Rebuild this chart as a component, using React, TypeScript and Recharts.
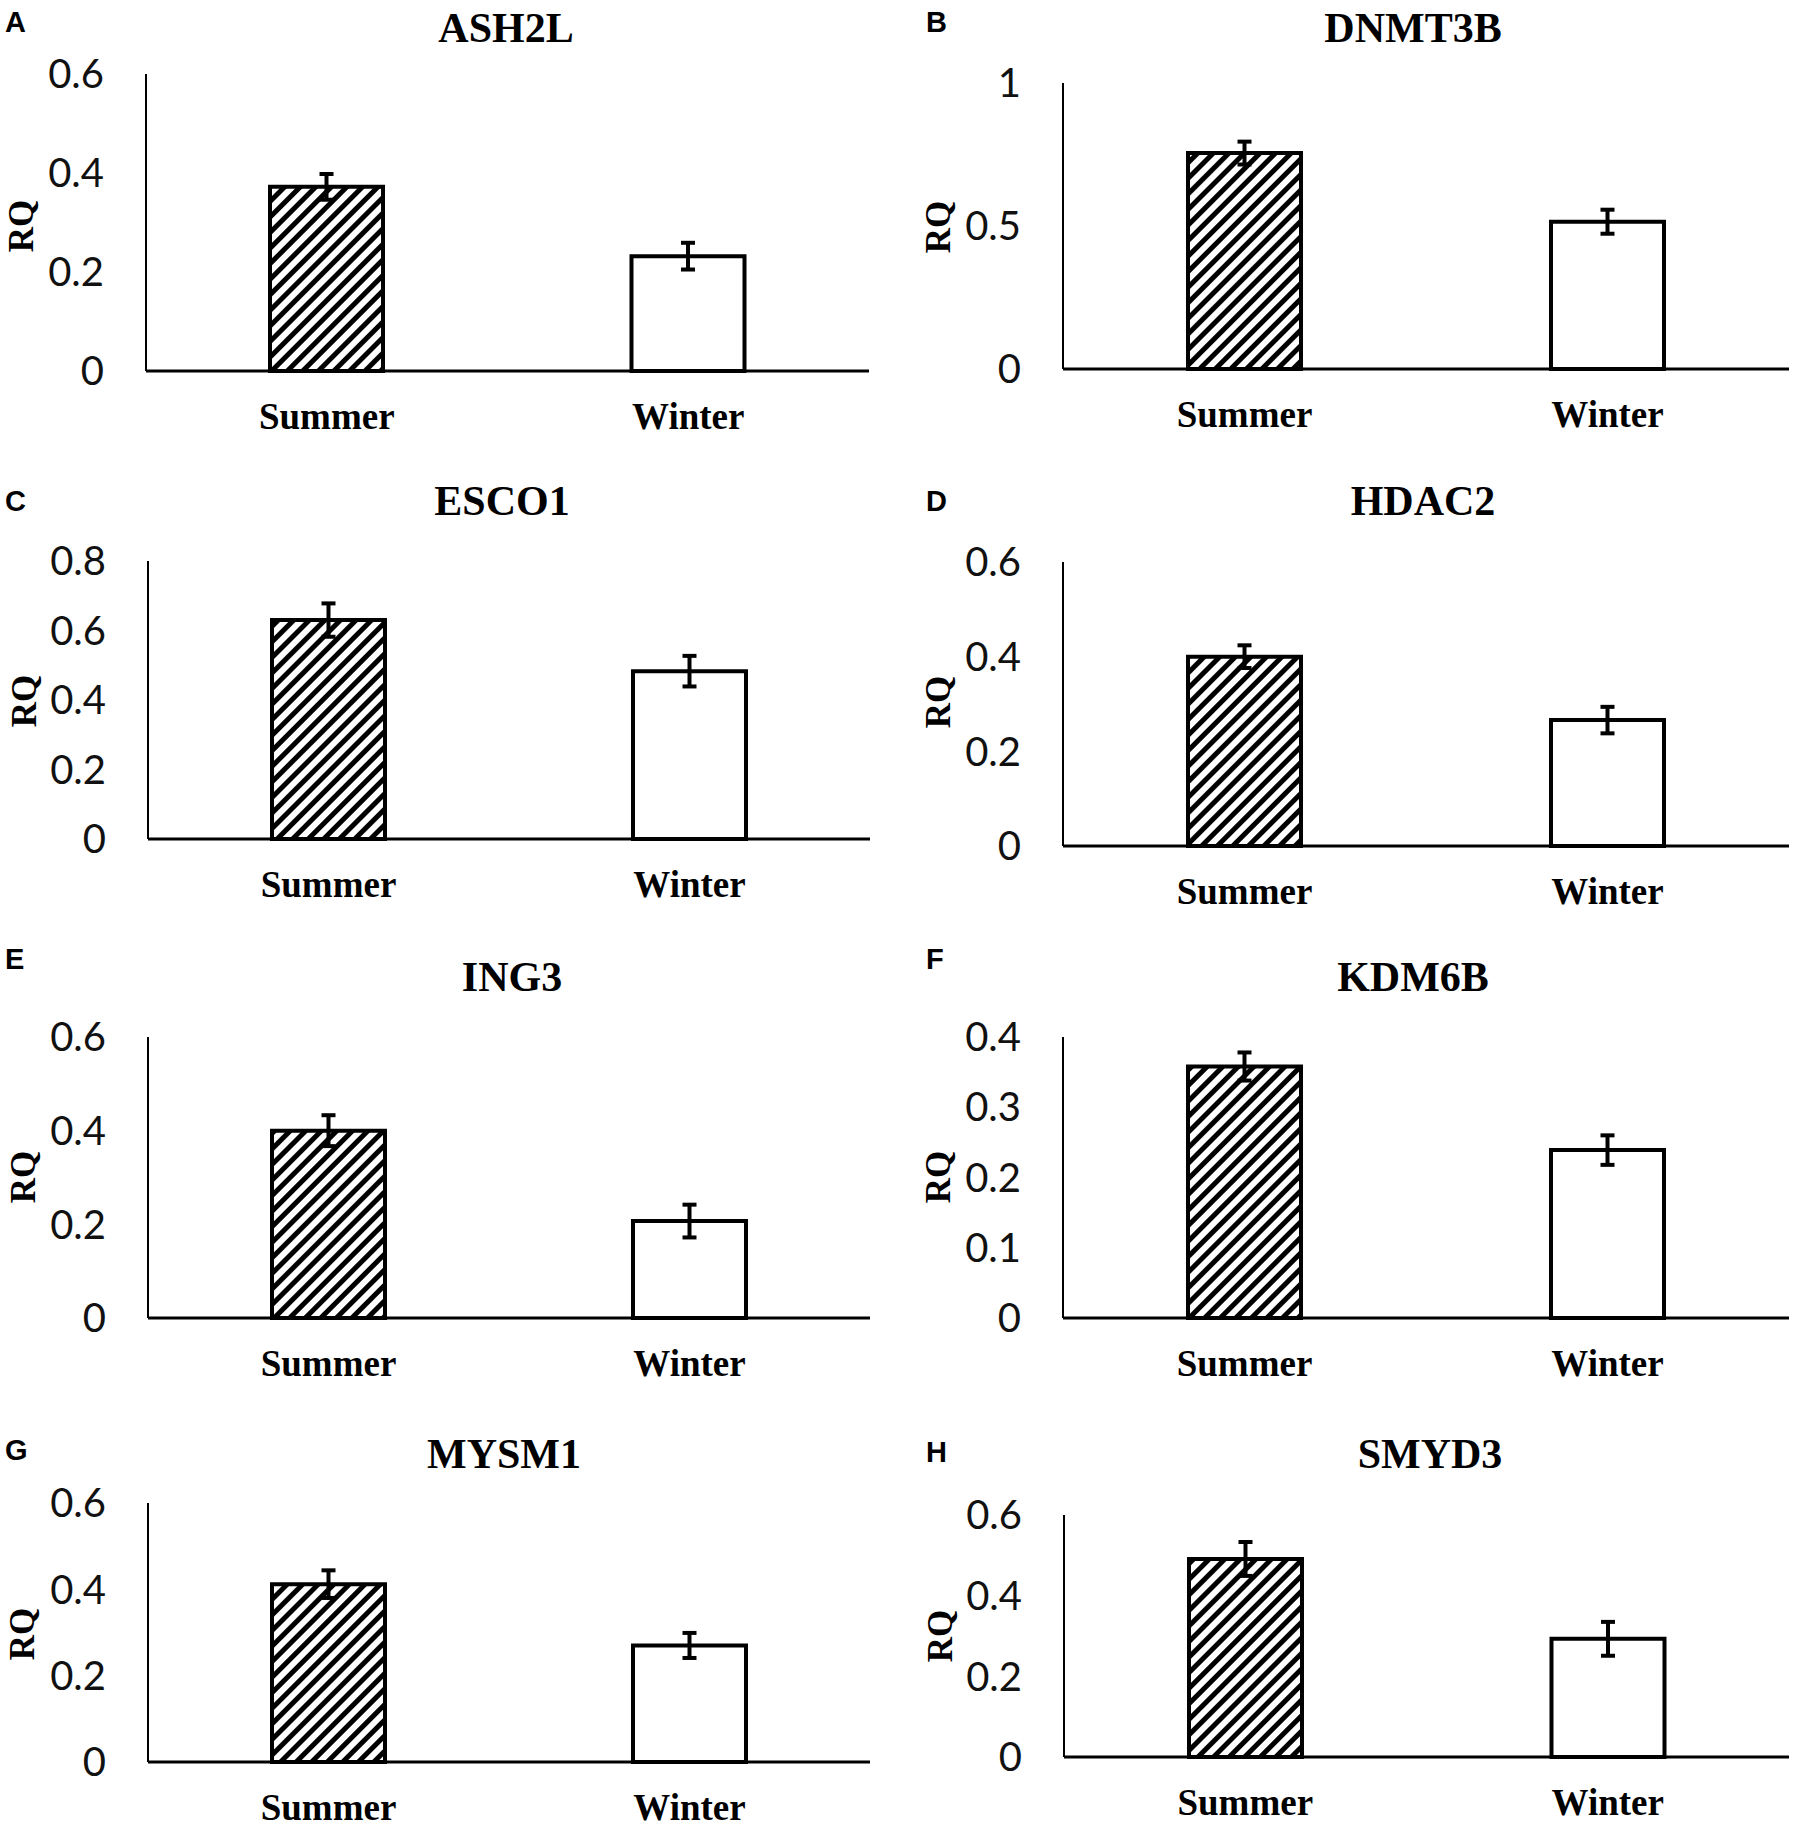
import React from "react";
import { Bar, BarChart, Cell, ErrorBar, XAxis, YAxis } from "recharts";

// values (relative quantity, mean ± error)
const categories = ["Summer", "Winter"];
const genes = ["ASH2L", "DNMT3B", "ESCO1", "HDAC2", "ING3", "KDM6B", "MYSM1", "SMYD3"];
const panelLetters = ["A", "B", "C", "D", "E", "F", "G", "H"];
const summerRQ = [0.372, 0.755, 0.63, 0.4, 0.4, 0.358, 0.412, 0.491];
const winterRQ = [0.232, 0.515, 0.483, 0.266, 0.207, 0.239, 0.27, 0.293];
const summerErr = [0.026, 0.04, 0.048, 0.024, 0.033, 0.02, 0.032, 0.042];
const winterErr = [0.027, 0.042, 0.044, 0.028, 0.035, 0.021, 0.029, 0.042];
const yTicks = [
  [0, 0.2, 0.4, 0.6],
  [0, 0.5, 1],
  [0, 0.2, 0.4, 0.6, 0.8],
  [0, 0.2, 0.4, 0.6],
  [0, 0.2, 0.4, 0.6],
  [0, 0.1, 0.2, 0.3, 0.4],
  [0, 0.2, 0.4, 0.6],
  [0, 0.2, 0.4, 0.6],
];

// where each panel's plot area sits on the page
const layout = [
  { x0: 146, x1: 869, top: 74, zero: 371, titleX: 506, titleY: 42, letterY: 32, rqX: 21, rqY: 226 },
  { x0: 1063, x1: 1789, top: 83, zero: 369, titleX: 1413, titleY: 42, letterY: 32, rqX: 938, rqY: 227 },
  { x0: 148, x1: 870, top: 561, zero: 839, titleX: 502, titleY: 515, letterY: 511, rqX: 24, rqY: 701 },
  { x0: 1063, x1: 1789, top: 562, zero: 846, titleX: 1423, titleY: 515, letterY: 511, rqX: 938, rqY: 702 },
  { x0: 148, x1: 870, top: 1037, zero: 1318, titleX: 512, titleY: 991, letterY: 969, rqX: 23, rqY: 1177 },
  { x0: 1063, x1: 1789, top: 1037, zero: 1318, titleX: 1413, titleY: 991, letterY: 969, rqX: 938, rqY: 1177 },
  { x0: 148, x1: 870, top: 1503, zero: 1762, titleX: 504, titleY: 1468, letterY: 1460, rqX: 22, rqY: 1634 },
  { x0: 1064, x1: 1789, top: 1515, zero: 1757, titleX: 1430, titleY: 1468, letterY: 1462, rqX: 940, rqY: 1636 },
];

const Y_AXIS_W = 140;
const M_TOP = 32;
const X_AXIS_H = 70;
const serif = "'Liberation Serif', 'Times New Roman', serif";

function CategoryTick({ x, y, payload }: any) {
  return (
    <text x={x} y={y + 45} textAnchor="middle" dominantBaseline="central" fontFamily={serif} fontWeight="bold" fontSize={37} fill="#000">
      {payload.value}
    </text>
  );
}

function Panel({ i }: { i: number }) {
  const p = layout[i];
  const ticks = yTicks[i];
  const data = categories.map((name, k) => ({
    name,
    value: k === 0 ? summerRQ[i] : winterRQ[i],
    err: k === 0 ? summerErr[i] : winterErr[i],
  }));
  const width = p.x1 - p.x0 + Y_AXIS_W + 10;
  const height = p.zero - p.top + M_TOP + X_AXIS_H;

  return (
    <div style={{ position: "absolute", left: p.x0 - Y_AXIS_W, top: p.top - M_TOP }}>
      <BarChart width={width} height={height} data={data} barSize={113} margin={{ top: M_TOP, right: 10, bottom: 0, left: 0 }}>
        <XAxis
          dataKey="name"
          height={X_AXIS_H}
          interval={0}
          axisLine={{ stroke: "#000", strokeWidth: 3 }}
          tickLine={false}
          tickSize={0}
          tickMargin={0}
          tick={(props: any) => <CategoryTick {...props} />}
        />
        <YAxis
          width={Y_AXIS_W}
          domain={[0, ticks[ticks.length - 1]]}
          ticks={ticks}
          interval={0}
          axisLine={{ stroke: "#000", strokeWidth: 2 }}
          tickLine={false}
          tickSize={0}
          tickMargin={42}
          tick={{ fontFamily: "Lato", fontSize: 40, fill: "#111" }}
        />
        <Bar dataKey="value" stroke="#000" strokeWidth={4} isAnimationActive={false}>
          {data.map((d, k) => (
            <Cell key={d.name} fill={k === 0 ? "url(#hatch)" : "#fff"} />
          ))}
          <ErrorBar dataKey="err" direction="y" width={7} stroke="#000" strokeWidth={4} isAnimationActive={false} />
        </Bar>
      </BarChart>
    </div>
  );
}

export default function App() {
  return (
    <div style={{ position: "absolute", left: 0, top: 0, width: 1800, height: 1825, background: "#fff", overflow: "hidden" }}>
      <svg width={1800} height={1825} style={{ position: "absolute", left: 0, top: 0 }}>
        <defs>
          <pattern id="hatch" patternUnits="userSpaceOnUse" width={11} height={11} patternTransform="rotate(45)">
            <rect x={0} y={0} width={11} height={11} fill="#fff" />
            <rect x={0} y={0} width={5} height={11} fill="#000" />
          </pattern>
        </defs>
        {layout.map((p, i) => (
          <g key={genes[i]}>
            <text x={i % 2 === 0 ? 5 : 926} y={p.letterY} fontFamily="'Liberation Sans', Arial, sans-serif" fontWeight="bold" fontSize={29} fill="#000">
              {panelLetters[i]}
            </text>
            <text x={p.titleX} y={p.titleY} textAnchor="middle" fontFamily={serif} fontWeight="bold" fontSize={42} fill="#000">
              {genes[i]}
            </text>
            <text
              x={p.rqX}
              y={p.rqY}
              transform={`rotate(-90 ${p.rqX} ${p.rqY})`}
              textAnchor="middle"
              dominantBaseline="central"
              fontFamily={serif}
              fontWeight="bold"
              fontSize={35}
              fill="#000"
            >
              RQ
            </text>
          </g>
        ))}
      </svg>
      {layout.map((_, i) => (
        <Panel key={genes[i]} i={i} />
      ))}
    </div>
  );
}
